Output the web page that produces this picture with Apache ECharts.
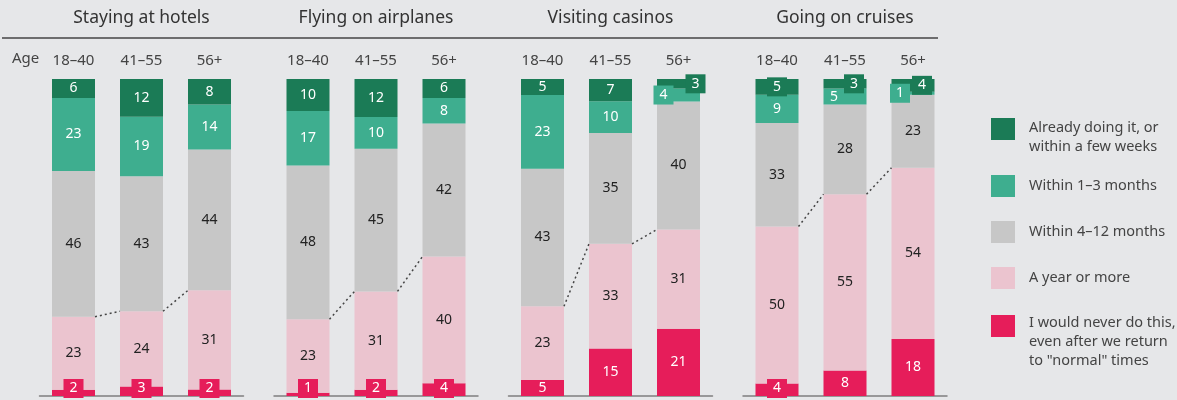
<!DOCTYPE html>
<html>
<head>
<meta charset="utf-8">
<script src="https://cdn.jsdelivr.net/npm/echarts@6/dist/echarts.min.js"></script>
<style>
  html, body { margin: 0; padding: 0; background: #e6e7e9; }
  #chart { width: 1177px; height: 400px; }
</style>
</head>
<body>
<div id="chart"></div>
<script>
// categories
const panels = ['Staying at hotels', 'Flying on airplanes', 'Visiting casinos', 'Going on cruises']
const ages = ['18–40', '41–55', '56+']
const seriesNames = [
  'Already doing it, or\nwithin a few weeks',
  'Within 1–3 months',
  'Within 4–12 months',
  'A year or more',
  'I would never do this,\neven after we return\nto "normal" times'
]

// values, one row per panel, one value per age group
const alreadyDoing = [[6, 12, 8], [10, 12, 6], [5, 7, 3], [5, 3, 4]]
const within1to3 = [[23, 19, 14], [17, 10, 8], [23, 10, 4], [9, 5, 1]]
const within4to12 = [[46, 43, 44], [48, 45, 42], [43, 35, 40], [33, 28, 23]]
const yearOrMore = [[23, 24, 31], [23, 31, 40], [23, 33, 31], [50, 55, 54]]
const neverDo = [[2, 3, 2], [1, 2, 4], [5, 15, 21], [4, 8, 18]]

const allSeries = [alreadyDoing, within1to3, within4to12, yearOrMore, neverDo]
const colors = ['#1b7b56', '#3eae8f', '#c7c7c7', '#ebc4cf', '#e61d5a']
const labelColors = ['#fff', '#fff', '#222', '#222', '#fff']

// small values drawn as boxed labels: [panel, age, series, dx]
const badges = [
  [0, 0, 4, 0], [0, 1, 4, 0], [0, 2, 4, 0],
  [1, 0, 4, 0], [1, 1, 4, 0], [1, 2, 4, 0],
  [2, 2, 0, 17], [2, 2, 1, -15],
  [3, 0, 0, 0], [3, 0, 4, 0], [3, 1, 0, 9], [3, 2, 0, 9], [3, 2, 1, -13]
]
const shifted = [[3, 1, 1, -11]]

const font = 'Noto Sans'
const gridLefts = [39.5, 274, 508.5, 743]
const gridWidth = 204
const barWidth = 43

const chart = echarts.init(document.getElementById('chart'))

const total = (p, i) => allSeries.reduce((s, arr) => s + arr[p][i], 0)

const labelFor = (p, i, s) => {
  const b = badges.find(d => d[0] === p && d[1] === i && d[2] === s)
  const sh = shifted.find(d => d[0] === p && d[1] === i && d[2] === s)
  if (b) {
    const lab = {
      backgroundColor: colors[s],
      padding: [2, 6],
      lineHeight: 15,
      offset: [b[3], 0]
    }
    if (s === 4) {
      lab.position = 'insideBottom'
      lab.distance = -2
    }
    return lab
  }
  if (sh) return { offset: [sh[3], 0] }
  return undefined
}

const grids = []
const xAxes = []
const yAxes = []
const series = []

panels.forEach((name, p) => {
  grids.push({ left: gridLefts[p], width: gridWidth, top: 79, height: 317 })
  xAxes.push({
    type: 'category', gridIndex: p, position: 'top', data: ages,
    axisLine: { show: false }, axisTick: { show: false },
    axisLabel: { color: '#444', fontSize: 15, fontFamily: font, margin: 11 }
  })
  xAxes.push({
    type: 'category', gridIndex: p, position: 'bottom', data: ages,
    axisLine: { lineStyle: { color: '#7f7f7f', width: 1.5 } },
    axisTick: { show: false }, axisLabel: { show: false }
  })
  yAxes.push({ type: 'value', gridIndex: p, min: 0, max: 100, show: false })

  // stacked from the bottom: never first
  for (let s = 4; s >= 0; s--) {
    series.push({
      name: seriesNames[s],
      type: 'bar',
      stack: 'p' + p,
      xAxisIndex: 2 * p,
      yAxisIndex: p,
      barWidth: barWidth,
      itemStyle: { color: colors[s] },
      label: {
        show: true,
        position: 'inside',
        color: labelColors[s],
        fontSize: 14,
        fontFamily: font,
        formatter: prm => prm.data.raw
      },
      data: ages.map((a, i) => ({
        value: allSeries[s][p][i] / total(p, i) * 100,
        raw: allSeries[s][p][i],
        label: labelFor(p, i, s)
      }))
    })
  }

  // dotted connectors at the top of "A year or more"
  series.push({
    type: 'custom',
    xAxisIndex: 2 * p,
    yAxisIndex: p,
    silent: true,
    z: 5,
    data: [0, 1].map(i => [i,
      (neverDo[p][i] + yearOrMore[p][i]) / total(p, i) * 100,
      (neverDo[p][i + 1] + yearOrMore[p][i + 1]) / total(p, i + 1) * 100]),
    renderItem: (params, api) => {
      const i = api.value(0)
      const a = api.coord([i, api.value(1)])
      const b = api.coord([i + 1, api.value(2)])
      return {
        type: 'line',
        shape: { x1: a[0] + barWidth / 2, y1: a[1], x2: b[0] - barWidth / 2, y2: b[1] },
        style: { stroke: '#444', lineWidth: 1.5, lineDash: [2, 3] }
      }
    }
  })
})

// legend, one block per item so each sits where the reference puts it;
// an empty first rich line pushes multi-line text down to the square's top
const legendTops = [101.5, 175, 221, 267, 281.5]
const spacerHeights = [17, 0, 0, 0, 32]
const legends = seriesNames.map((n, k) => ({
  data: [n],
  left: 991,
  top: legendTops[k],
  orient: 'vertical',
  padding: 0,
  icon: 'rect',
  itemWidth: 24,
  itemHeight: 22,
  selectedMode: false,
  formatter: nm => spacerHeights[k]
    ? '{s| }\n' + nm.split('\n').map(l => '{t|' + l + '}').join('\n')
    : nm,
  textStyle: {
    color: '#444', fontSize: 14.5, fontFamily: font, lineHeight: 19, padding: [0, 0, 0, 9],
    rich: {
      s: { lineHeight: spacerHeights[k], fontSize: 1 },
      t: { color: '#444', fontSize: 14.5, fontFamily: font, lineHeight: 19 }
    }
  }
}))

const graphics = panels.map((t, p) => ({
  type: 'text',
  x: gridLefts[p] + gridWidth / 2,
  y: 18,
  style: { text: t, fill: '#333', font: '17.5px "' + font + '"', textAlign: 'center', textVerticalAlign: 'middle' }
}))
graphics.push({
  type: 'line',
  shape: { x1: 2, y1: 38, x2: 938, y2: 38 },
  style: { stroke: '#444', lineWidth: 1.5 }
})
graphics.push({
  type: 'text',
  x: 12,
  y: 59,
  style: { text: 'Age', fill: '#444', font: '15px "' + font + '"', textVerticalAlign: 'middle' }
})

chart.setOption({
  backgroundColor: '#e6e7e9',
  animation: false,
  grid: grids,
  xAxis: xAxes,
  yAxis: yAxes,
  legend: legends,
  graphic: graphics,
  series: series
})
</script>
</body>
</html>
